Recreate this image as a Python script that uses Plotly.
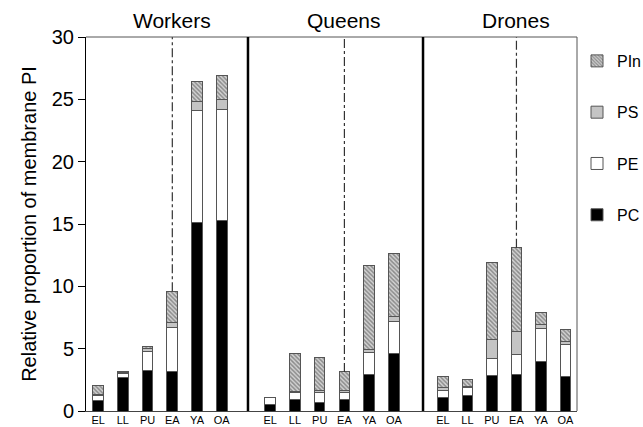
import plotly.graph_objects as go
from plotly.subplots import make_subplots

# Developmental stages (x categories)
stages = ["EL", "LL", "PU", "EA", "YA", "OA"]
castes = ["Workers", "Queens", "Drones"]

# Relative proportion of membrane PI per phospholipid class
workers_pc = [0.85, 2.65, 3.25, 3.2, 15.1, 15.3]
workers_pe = [0.4, 0.35, 1.5, 3.5, 9.0, 8.9]
workers_ps = [0.1, 0.1, 0.3, 0.4, 0.7, 0.8]
workers_pin = [0.7, 0.05, 0.15, 2.5, 1.6, 1.9]

queens_pc = [0.55, 0.95, 0.7, 0.9, 2.95, 4.6]
queens_pe = [0.5, 0.55, 0.77, 0.6, 1.75, 2.55]
queens_ps = [0.05, 0.1, 0.15, 0.13, 0.25, 0.4]
queens_pin = [0.0, 3.05, 2.7, 1.5, 6.7, 5.1]

drones_pc = [1.05, 1.25, 2.85, 2.9, 3.95, 2.8]
drones_pe = [0.6, 0.6, 1.35, 1.65, 2.65, 2.5]
drones_ps = [0.2, 0.1, 1.55, 1.85, 0.3, 0.3]
drones_pin = [0.9, 0.6, 6.15, 6.7, 1.0, 0.95]

y_ticks = [0, 5, 10, 15, 20, 25, 30]

panels = [
    (workers_pc, workers_pe, workers_ps, workers_pin),
    (queens_pc, queens_pe, queens_ps, queens_pin),
    (drones_pc, drones_pe, drones_ps, drones_pin),
]

# (name, marker style, legend rank) - PC stacks first, listed last
classes = [
    ("PC", dict(color="black"), 4),
    ("PE", dict(color="white"), 3),
    ("PS", dict(color="#c4c4c4"), 2),
    ("PIn", dict(color="#d2d2d2",
                 pattern=dict(shape="\\", fgcolor="#444444", size=3, solidity=0.5)), 1),
]

FONT = "Liberation Sans, Arial, sans-serif"

fig = make_subplots(rows=1, cols=3, shared_yaxes=True, horizontal_spacing=0)

for col, series in enumerate(panels, start=1):
    for (name, style, rank), vals in zip(classes, series):
        fig.add_trace(
            go.Bar(
                x=stages, y=vals, name=name, width=0.43,
                marker=dict(line=dict(color="#555555", width=1), **style),
                legendgroup=name, legendrank=rank, showlegend=(col == 1),
            ),
            row=1, col=col,
        )

# panel domains and x ranges (category index units)
domains = [[0, 0.3299], [0.3299, 0.6864], [0.6864, 1.0]]
xranges = [[-0.49, 6.06], [-0.9, 6.18], [-0.81, 5.47]]
for i in range(3):
    key = "xaxis" if i == 0 else f"xaxis{i + 1}"
    fig.layout[key].update(
        domain=domains[i], range=xranges[i], type="category",
        showline=True, linecolor="#444444", linewidth=1,
        ticks="", showgrid=False, zeroline=False, automargin=False,
        ticklabelstandoff=-1,
        tickfont=dict(size=11, family=FONT, color="black"),
    )

fig.update_yaxes(
    range=[0, 30], tickvals=y_ticks, showgrid=False, zeroline=False,
    showline=True, linecolor="black", linewidth=1, automargin=False,
    ticks="outside", ticklen=7, tickcolor="black",
    tickfont=dict(size=20, family=FONT, color="black"),
)
fig.update_yaxes(
    title=dict(text="Relative proportion of membrane PI",
               font=dict(size=20, family=FONT, color="black"), standoff=9),
    row=1, col=1,
)
fig.update_yaxes(showline=False, ticks="", row=1, col=2)
fig.update_yaxes(showline=False, ticks="", row=1, col=3)

shapes = []
xrefs = ["x", "x2", "x3"]
for i, series in enumerate(panels):
    ea_total = sum(s[3] for s in series)
    shapes.append(dict(type="line", xref=xrefs[i], yref="y", x0=3, x1=3,
                       y0=ea_total, y1=30,
                       line=dict(color="#333333", width=1.2, dash="dashdot")))
# frame and thick separators between castes
shapes.append(dict(type="line", xref="paper", yref="paper", x0=0, x1=1, y0=1, y1=1,
                   line=dict(color="#555555", width=1)))
shapes.append(dict(type="line", xref="paper", yref="paper", x0=1, x1=1, y0=0, y1=1,
                   line=dict(color="#555555", width=1)))
for xd in (domains[0][1], domains[1][1]):
    shapes.append(dict(type="line", xref="paper", yref="paper", x0=xd, x1=xd, y0=0, y1=1,
                       line=dict(color="black", width=2.5)))

annotations = []
for i, caste in enumerate(castes):
    annotations.append(dict(text=caste, xref=xrefs[i], yref="paper", x=3, y=1,
                            yanchor="bottom", yshift=3, showarrow=False,
                            font=dict(size=21, family=FONT, color="black")))

fig.update_layout(
    width=643, height=427,
    margin=dict(l=86, r=66, t=37, b=16),
    barmode="stack",
    plot_bgcolor="white", paper_bgcolor="white",
    shapes=shapes, annotations=annotations,
    legend=dict(xref="container", yref="container",
                x=577 / 643, xanchor="left", y=0.897, yanchor="top",
                traceorder="grouped", tracegroupgap=27.5,
                font=dict(size=16, family=FONT, color="black"),
                itemwidth=30, bgcolor="rgba(0,0,0,0)"),
    font=dict(family=FONT),
)

fig.write_html("out.html")
